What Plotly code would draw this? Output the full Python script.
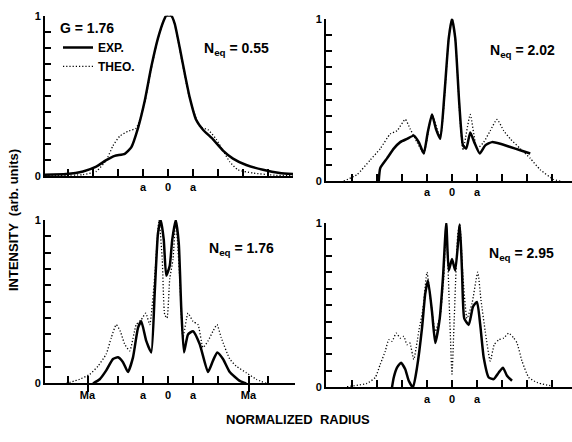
import plotly.graph_objects as go

# Normalized radius in units of a, intensity normalized to the peak.
G_VALUE = "1.76"
NEQ_LABELS = ["0.55", "2.02", "1.76", "2.95"]
M_POS = 3.22  # position of Ma on the normalized-radius axis

p1_exp_x = [-4.93, -4.07, -3.4, -2.87, -2.47, -2.13, -1.73, -1.47, -1.2, -0.93, -0.67, -0.4, -0.17, -0.07,
            0.13, 0.27, 0.47, 0.67, 0.87, 1.13, 1.4, 1.8, 2.2, 2.6, 3.13, 3.8, 4.47, 5.0]
p1_exp_y = [0.01, 0.014, 0.03, 0.06, 0.10, 0.127, 0.14, 0.18, 0.30, 0.47, 0.68, 0.86, 0.97, 1.0,
            1.0, 0.95, 0.80, 0.64, 0.49, 0.35, 0.29, 0.23, 0.16, 0.11, 0.07, 0.04, 0.02, 0.014]
p1_theo_x = [-4.93, -3.4, -2.87, -2.47, -2.2, -1.93, -1.6, -1.27, -0.93, -0.67, -0.4, -0.17, -0.07,
             0.13, 0.27, 0.47, 0.67, 0.87, 1.27, 1.6, 1.93, 2.2, 2.47, 2.8, 3.4, 4.33, 5.0]
p1_theo_y = [0.005, 0.01, 0.03, 0.10, 0.19, 0.25, 0.28, 0.30, 0.46, 0.67, 0.86, 0.97, 1.0,
             1.0, 0.95, 0.79, 0.63, 0.48, 0.31, 0.29, 0.23, 0.16, 0.09, 0.04, 0.02, 0.006, 0.005]

p2_exp_x = [-2.93, -2.87, -2.6, -2.33, -2.07, -1.8, -1.53, -1.33, -1.13, -0.97, -0.8, -0.64, -0.47, -0.31,
            -0.13, 0.0, 0.13, 0.29, 0.44, 0.57, 0.73, 0.89, 1.11, 1.33, 1.6, 1.93, 2.33, 2.73, 3.13]
p2_exp_y = [0.0, 0.08, 0.14, 0.20, 0.24, 0.26, 0.28, 0.24, 0.17, 0.30, 0.41, 0.32, 0.26, 0.52,
            0.88, 1.0, 0.88, 0.48, 0.22, 0.20, 0.30, 0.24, 0.17, 0.22, 0.24, 0.23, 0.21, 0.19, 0.17]
p2_theo_x = [-4.33, -3.8, -3.27, -2.87, -2.47, -2.2, -1.87, -1.67, -1.4, -1.13, -0.8, -0.47, -0.13, 0.0,
             0.13, 0.33, 0.44, 0.73, 1.0, 1.27, 1.53, 1.8, 2.07, 2.33, 2.73, 3.13, 3.53, 4.07, 4.33]
p2_theo_y = [0.0, 0.04, 0.13, 0.20, 0.29, 0.31, 0.38, 0.32, 0.24, 0.17, 0.41, 0.27, 0.88, 1.0,
             0.88, 0.36, 0.19, 0.41, 0.20, 0.24, 0.31, 0.38, 0.31, 0.26, 0.20, 0.14, 0.07, 0.01, 0.0]

p3_exp_x = [-3.0, -2.73, -2.47, -2.2, -2.0, -1.8, -1.6, -1.4, -1.2, -1.07, -0.87, -0.67, -0.53, -0.4,
            -0.29, -0.17, -0.07, 0.07, 0.17, 0.31, 0.43, 0.53, 0.64, 0.8, 1.0, 1.27, 1.6, 1.8, 1.97,
            2.2, 2.47, 2.87, 3.13]
p3_exp_y = [0.0, 0.026, 0.08, 0.15, 0.16, 0.13, 0.07, 0.16, 0.34, 0.38, 0.26, 0.19, 0.56, 0.92,
            1.0, 0.88, 0.66, 0.72, 0.88, 1.0, 0.86, 0.46, 0.19, 0.30, 0.32, 0.24, 0.07, 0.14, 0.19,
            0.15, 0.07, 0.016, 0.0]
p3_theo_x = [-4.07, -3.53, -3.13, -2.8, -2.47, -2.27, -2.07, -1.91, -1.73, -1.53, -1.27, -1.07, -0.89,
             -0.73, -0.53, -0.36, -0.23, -0.13, -0.04, 0.07, 0.2, 0.31, 0.47, 0.6, 0.8, 1.0, 1.2,
             1.4, 1.6, 1.8, 1.96, 2.13, 2.47, 2.73, 3.13, 3.53, 3.93]
p3_theo_y = [0.0, 0.026, 0.056, 0.106, 0.18, 0.28, 0.36, 0.32, 0.24, 0.20, 0.36, 0.39, 0.43,
             0.36, 0.66, 1.0, 0.76, 0.42, 0.40, 0.64, 0.76, 1.0, 0.64, 0.28, 0.43, 0.38, 0.36,
             0.22, 0.26, 0.32, 0.36, 0.28, 0.15, 0.106, 0.066, 0.026, 0.0]

p4_exp_x = [-2.4, -2.33, -2.2, -2.04, -1.87, -1.73, -1.56, -1.4, -1.2, -1.07, -0.96, -0.8, -0.67, -0.49,
            -0.36, -0.23, -0.13, 0.0, 0.13, 0.31, 0.4, 0.49, 0.67, 0.84, 1.0, 1.13, 1.27, 1.47, 1.67,
            1.87, 2.04, 2.2, 2.4]
p4_exp_y = [0.0, 0.06, 0.12, 0.15, 0.11, 0.04, 0.0, 0.12, 0.36, 0.57, 0.65, 0.46, 0.27, 0.42,
            0.67, 1.0, 0.71, 0.78, 0.71, 0.99, 0.71, 0.42, 0.38, 0.49, 0.52, 0.38, 0.18, 0.06, 0.05,
            0.09, 0.12, 0.07, 0.04]
p4_theo_x = [-4.2, -3.4, -3.07, -2.87, -2.67, -2.53, -2.4, -2.23, -2.07, -1.93, -1.8, -1.69, -1.53,
             -1.33, -1.16, -1.0, -0.84, -0.67, -0.47, -0.33, -0.23, -0.09, 0.0, 0.09, 0.23, 0.31,
             0.44, 0.6, 0.8, 1.03, 1.16, 1.33, 1.53, 1.69, 1.87, 2.07, 2.27, 2.47, 2.6, 2.8, 3.07,
             3.4, 3.93]
p4_theo_y = [0.004, 0.024, 0.06, 0.14, 0.22, 0.29, 0.28, 0.33, 0.30, 0.31, 0.26, 0.27, 0.17,
             0.34, 0.48, 0.70, 0.51, 0.34, 0.44, 0.67, 0.99, 0.42, 0.08, 0.42, 0.93, 0.99,
             0.67, 0.42, 0.51, 0.70, 0.53, 0.34, 0.16, 0.26, 0.29, 0.30, 0.33, 0.30, 0.27, 0.16, 0.06,
             0.03, 0.01]

panels = [
    (p1_exp_x, p1_exp_y, p1_theo_x, p1_theo_y),
    (p2_exp_x, p2_exp_y, p2_theo_x, p2_theo_y),
    (p3_exp_x, p3_exp_y, p3_theo_x, p3_theo_y),
    (p4_exp_x, p4_exp_y, p4_theo_x, p4_theo_y),
]

W, H = 572, 442
FONT = "Liberation Sans, Arial, sans-serif"
Y_TICKS = [k / 10 for k in range(0, 11)]
Y_TEXT = ["0"] + [" "] * 9 + ["1"]
DOTS = "1.2px,2px"

# pixel frames of the four panels: (x_left, x_right, x_range, y_zero, y_one)
frames = [
    (45, 293, [-4.92, 5.0], 175, 10),
    (326, 572, [-5.04, 4.8], 180, 13),
    (45, 295, [-4.92, 5.08], 388, 220),
    (326, 572, [-5.04, 4.8], 392, 223),
]

fig = go.Figure()
for i, (ex, ey, tx, ty) in enumerate(panels):
    ax = "" if i == 0 else str(i + 1)
    fig.add_trace(go.Scatter(x=ex, y=ey, mode="lines", name="EXP.",
                             line=dict(color="black", width=2.5, shape="spline", smoothing=0.5),
                             xaxis="x" + ax, yaxis="y" + ax, showlegend=(i == 0)))
    fig.add_trace(go.Scatter(x=tx, y=ty, mode="lines", name="THEO.",
                             line=dict(color="black", width=1.3, dash=DOTS, shape="spline", smoothing=0.5),
                             xaxis="x" + ax, yaxis="y" + ax, showlegend=(i == 0)))

layout = {}
for i, (xl, xr, xrange_, y0, y1) in enumerate(frames):
    ax = "" if i == 0 else str(i + 1)
    if i == 2:
        tv = [-4, -M_POS, -2, -1, 0, 1, 2, M_POS, 4]
        tt = [" ", "Ma", " ", "a", "0", "a", " ", "Ma", " "]
    else:
        tv = [-4, -3, -2, -1, 0, 1, 2, 3, 4]
        tt = [" ", " ", " ", "a", "0", "a", " ", " ", " "]
    xa = dict(domain=[xl / W, xr / W], range=xrange_, anchor="y" + ax,
              showline=True, linecolor="black", linewidth=2, showgrid=False, zeroline=False,
              tickmode="array", tickvals=tv, ticktext=tt, ticks="inside", ticklen=7,
              tickwidth=2, tickcolor="black", layer="above traces",
              tickfont=dict(family=FONT, size=11, color="black", weight="bold"))
    ya = dict(domain=[1 - y0 / H, 1 - y1 / H], range=[0, 1.0], anchor="x" + ax,
              showline=True, linecolor="black", linewidth=2, showgrid=False, zeroline=False,
              tickmode="array", tickvals=Y_TICKS, ticktext=Y_TEXT, ticks="inside", ticklen=6,
              tickwidth=2, tickcolor="black", layer="above traces",
              tickfont=dict(family=FONT, size=11, color="black", weight="bold"))
    layout["xaxis" + ax] = xa
    layout["yaxis" + ax] = ya

# the Ma marks also reach below the axis in the lower-left panel
layout["xaxis5"] = dict(domain=layout["xaxis3"]["domain"], range=frames[2][2], anchor="y3",
                        overlaying="x3", side="bottom", showline=False, showgrid=False,
                        zeroline=False, tickmode="array", tickvals=[-M_POS, M_POS],
                        ticktext=[" ", " "], ticks="outside", ticklen=8, tickwidth=2,
                        tickcolor="black")
fig.add_trace(go.Scatter(x=[-M_POS, M_POS], y=[0, 0], mode="lines", xaxis="x5", yaxis="y3",
                         line=dict(width=0, color="rgba(0,0,0,0)"), showlegend=False,
                         hoverinfo="skip"))

# N_eq labels placed in each panel's upper right
neq_pos = [(236, 44), (522, 46), (241, 250), (521, 255)]
annotations = []
for (px, py), lab in zip(neq_pos, NEQ_LABELS):
    annotations.append(dict(x=px / W, y=1 - py / H, xref="paper", yref="paper",
                            text="N<sub>eq</sub> = " + lab, showarrow=False,
                            font=dict(family=FONT, size=14, color="black", weight="bold"),
                            xanchor="center", yanchor="middle"))
annotations.append(dict(x=298 / W, y=1 - 425 / H, xref="paper", yref="paper",
                        text="NORMALIZED  RADIUS", showarrow=False,
                        font=dict(family=FONT, size=13, color="black", weight="bold"),
                        xanchor="center", yanchor="middle"))
annotations.append(dict(x=13 / W, y=1 - 220 / H, xref="paper", yref="paper",
                        text="INTENSITY  (arb. units)", showarrow=False, textangle=-90,
                        font=dict(family=FONT, size=13, color="black", weight="bold"),
                        xanchor="center", yanchor="middle"))

fig.update_layout(
    **layout,
    width=W, height=H,
    margin=dict(l=0, r=0, t=0, b=0),
    paper_bgcolor="white", plot_bgcolor="white",
    font=dict(family=FONT, color="black", weight="bold"),
    showlegend=True,
    legend=dict(x=58 / W, y=1 - 9 / H, xanchor="left", yanchor="top",
                bgcolor="rgba(0,0,0,0)", itemwidth=30, tracegroupgap=0,
                title=dict(text="G = " + G_VALUE, font=dict(family=FONT, size=14, weight="bold")),
                font=dict(family=FONT, size=12, color="black", weight="bold")),
    annotations=annotations,
)

fig.write_html("out.html")
